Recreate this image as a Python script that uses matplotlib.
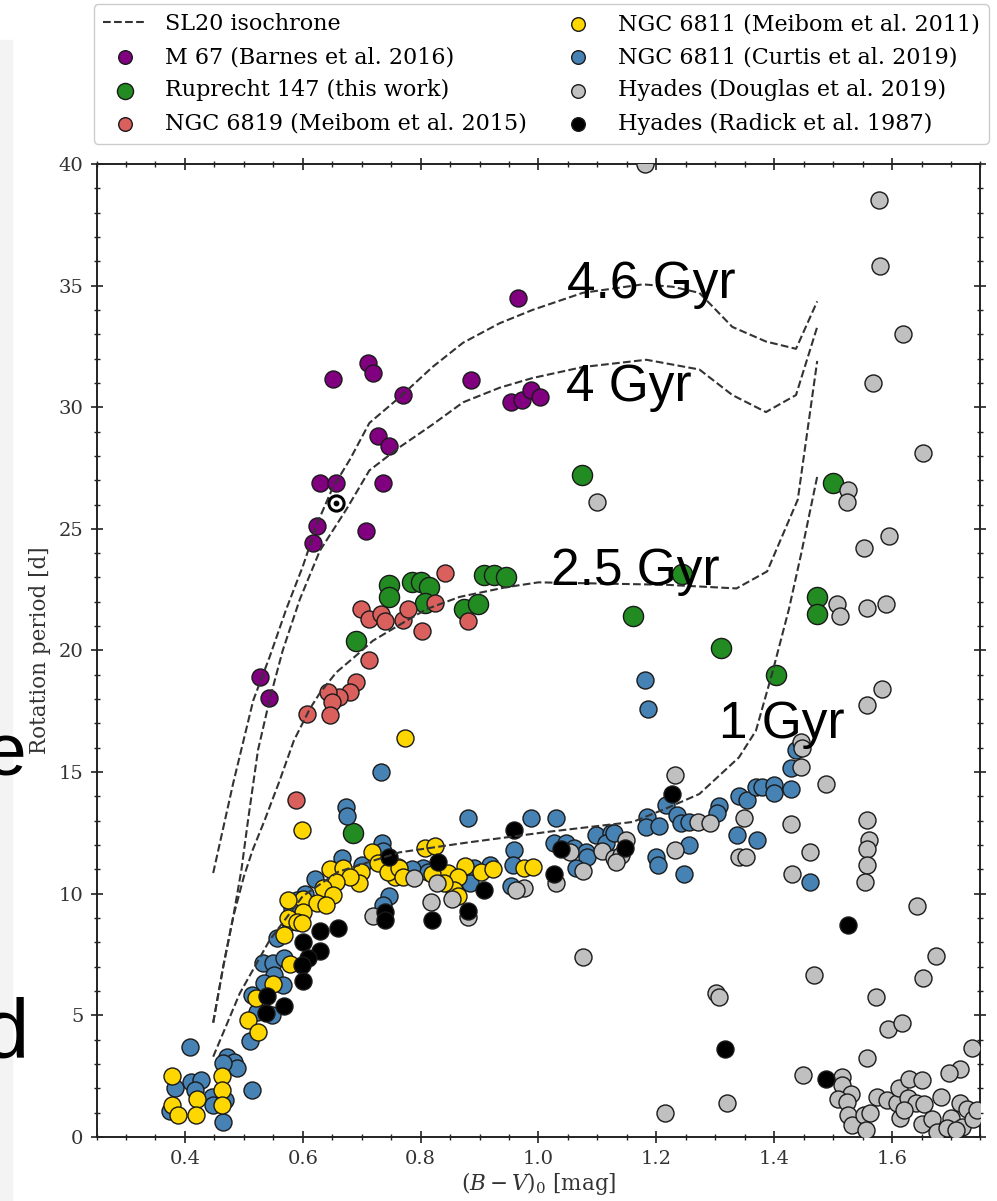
import matplotlib
matplotlib.use("Agg")
import matplotlib.pyplot as plt
from matplotlib.patches import Rectangle

plt.rcParams['font.family'] = ['DejaVu Serif']
plt.rcParams['mathtext.fontset'] = 'dejavuserif'

# --- SL20 isochrones (B-V, P) ---
iso_46_bv = [0.448, 0.482, 0.516, 0.544, 0.572, 0.600, 0.625, 0.651, 0.680, 0.713, 0.764, 0.820,
             0.872, 0.934, 0.990, 1.075, 1.177, 1.228, 1.273, 1.329, 1.386, 1.437, 1.473]
iso_46_p = [10.85, 14.55, 17.95, 19.75, 21.7, 23.45, 25.25, 26.7, 27.85, 29.35, 30.4, 31.65,
            32.65, 33.45, 34.0, 34.7, 35.05, 34.95, 34.7, 33.3, 32.7, 32.4, 34.35]
iso_4_bv = [0.448, 0.465, 0.482, 0.496, 0.507, 0.524, 0.544, 0.566, 0.595, 0.629, 0.674, 0.713,
            0.764, 0.821, 0.872, 0.934, 0.990, 1.075, 1.183, 1.273, 1.329, 1.386, 1.437, 1.473]
iso_4_p = [4.7, 7.0, 9.05, 11.0, 13.0, 15.9, 18.0, 20.0, 22.1, 24.1, 25.8, 27.4,
           28.35, 29.3, 30.2, 30.8, 31.2, 31.65, 31.95, 31.55, 30.5, 29.8, 30.5, 33.3]
iso_25_bv = [0.448, 0.465, 0.482, 0.500, 0.515, 0.535, 0.560, 0.585, 0.612, 0.629, 0.657, 0.691,
             0.719, 0.764, 0.810, 0.866, 0.945, 1.000, 1.217, 1.336, 1.388, 1.410, 1.440, 1.473]
iso_25_p = [4.7, 7.0, 9.05, 10.7, 11.8, 13.0, 14.6, 16.3, 17.6, 18.25, 19.1, 19.8,
            20.4, 21.05, 21.7, 22.2, 22.6, 22.8, 22.7, 22.55, 23.25, 24.5, 26.2, 31.9]
iso_1_bv = [0.448, 0.493, 0.544, 0.600, 0.660, 0.764, 0.878, 1.018, 1.160, 1.216, 1.273, 1.340,
            1.369, 1.397, 1.425, 1.446, 1.473]
iso_1_p = [3.3, 5.9, 8.1, 9.9, 10.9, 11.7, 12.1, 12.55, 12.95, 13.5, 14.1, 15.6,
           16.7, 19.1, 21.7, 24.0, 27.15]

iso_names = ["4.6 Gyr", "4 Gyr", "2.5 Gyr", "1 Gyr"]
iso_label_bv = [1.049, 1.047, 1.022, 1.307]
iso_label_p = [34.5, 30.26, 22.7, 16.4]

# --- M 67 (Barnes et al. 2016) ---
m67_bv = [0.966, 0.527, 0.542, 0.617, 0.625, 0.63, 0.657, 0.651, 0.71, 0.72,
          0.727, 0.746, 0.77, 0.737, 0.708, 0.886, 0.954, 0.972, 0.988, 1.003]
m67_p = [34.5, 18.9, 18.05, 24.4, 25.1, 26.9, 26.9, 31.17, 31.8, 31.4,
         28.8, 28.4, 30.5, 26.9, 24.9, 31.1, 30.2, 30.3, 30.7, 30.4]

# --- Ruprecht 147 (this work) ---
rup_bv = [0.747, 0.746, 0.786, 0.80, 0.814, 0.808, 0.907, 0.925, 0.945, 0.873, 0.898,
          0.691, 1.244, 1.16, 1.31, 1.403, 1.473, 1.473, 1.074, 1.50, 0.685]
rup_p = [22.7, 22.2, 22.8, 22.8, 22.6, 21.95, 23.1, 23.1, 23.0, 21.7, 21.9,
         20.4, 23.15, 21.4, 20.1, 19.0, 22.2, 21.5, 27.2, 26.9, 12.5]

# --- NGC 6819 (Meibom et al. 2015) ---
n6819_bv = [0.842, 0.698, 0.713, 0.732, 0.74, 0.77, 0.778, 0.825, 0.803, 0.881,
            0.713, 0.691, 0.681, 0.662, 0.642, 0.649, 0.607, 0.647, 0.588]
n6819_p = [23.2, 21.7, 21.3, 21.5, 21.2, 21.25, 21.7, 21.95, 20.8, 21.2,
           19.6, 18.7, 18.3, 18.1, 18.3, 17.9, 17.4, 17.35, 13.85]

# --- NGC 6811 (Meibom et al. 2011) ---
m11_bv = [0.774, 0.598, 0.717, 0.727, 0.761, 0.757, 0.745, 0.646, 0.669, 0.699, 0.696, 0.68,
          0.657, 0.634, 0.651, 0.60, 0.625, 0.64, 0.575, 0.60, 0.575, 0.59, 0.598, 0.568,
          0.578, 0.55, 0.52, 0.507, 0.524, 0.378, 0.378, 0.388, 0.42, 0.419, 0.463, 0.463,
          0.463, 0.807, 0.825, 0.875, 0.847, 0.864, 0.903, 0.922, 0.976, 0.99, 0.764, 0.77,
          0.82, 0.857, 0.863, 0.84]
m11_p = [16.4, 12.6, 11.7, 11.25, 11.1, 10.7, 10.9, 11.0, 11.05, 10.9, 10.45, 10.7,
         10.5, 10.25, 9.95, 9.8, 9.6, 9.55, 9.75, 9.25, 9.0, 8.85, 8.8, 8.3,
         7.1, 6.3, 5.7, 4.8, 4.3, 2.5, 1.3, 0.9, 1.55, 0.9, 2.5, 1.95,
         1.3, 11.9, 11.95, 11.15, 10.85, 10.7, 10.9, 11.0, 11.05, 11.1, 11.05, 10.7,
         10.8, 10.15, 9.9, 10.45]

# --- NGC 6811 (Curtis et al. 2019) ---
c19_bv = [0.734, 0.736, 0.666, 0.747, 0.736, 0.604, 0.591, 0.581, 0.578, 0.556, 0.532, 0.549,
          0.569, 0.552, 0.535, 0.566, 0.514, 0.522, 0.547, 0.51, 0.408, 0.514, 0.471, 0.484,
          0.488, 0.465, 0.41, 0.428, 0.383, 0.417, 0.446, 0.448, 0.468, 0.465, 0.375,
          0.732, 0.674, 0.675, 0.881, 0.804, 0.89, 0.917, 0.62, 0.70, 0.785, 0.812,
          0.988, 1.03, 0.959, 0.956, 0.953, 0.883, 1.027, 1.047, 1.06, 1.081, 1.083, 1.098,
          1.123, 1.115, 1.064, 1.185, 1.183, 1.205, 1.217, 1.2, 1.202, 1.235, 1.242, 1.256,
          1.256, 1.247, 1.18, 1.186, 1.306, 1.303, 1.34, 1.354, 1.369, 1.38, 1.40, 1.40,
          1.428, 1.428, 1.437, 1.337, 1.371, 1.46, 1.129]
c19_p = [12.1, 11.75, 11.45, 9.9, 9.55, 10.0, 9.75, 9.4, 8.85, 8.2, 7.15, 7.15,
         7.35, 6.65, 6.35, 6.25, 5.85, 5.15, 5.0, 3.95, 3.7, 1.95, 3.3, 3.1,
         2.85, 3.05, 2.25, 2.35, 2.0, 1.95, 1.65, 1.3, 1.5, 0.6, 1.05,
         15.0, 13.55, 13.2, 13.1, 11.05, 11.05, 11.2, 10.6, 11.2, 11.0, 10.9,
         13.1, 13.1, 11.8, 11.2, 10.3, 10.45, 12.1, 12.1, 11.9, 11.7, 11.5, 12.4,
         12.5, 12.1, 11.05, 13.15, 12.75, 12.8, 13.65, 11.5, 11.2, 13.25, 12.9, 12.95,
         12.0, 10.8, 18.8, 17.6, 13.6, 13.3, 14.0, 13.85, 14.4, 14.4, 14.45, 14.15,
         14.3, 15.15, 15.9, 12.4, 12.2, 10.5, 12.5]

# --- Hyades (Douglas et al. 2019) ---
d19_bv = [1.18, 1.578, 1.58, 1.619, 1.568, 1.652, 1.526, 1.524, 1.10, 1.595, 1.553, 1.507,
          1.512, 1.558, 1.589, 1.583, 1.558, 1.445, 1.448, 1.445, 1.488, 1.232, 1.27, 1.291,
          1.349, 1.428, 1.558, 1.561, 1.558, 1.558, 1.554, 1.461, 1.43, 1.34, 1.352, 1.232,
          1.107, 1.129, 1.149, 1.075, 0.975, 0.962, 1.029, 1.14, 1.132, 1.054,
          1.642, 1.674, 1.468, 1.653, 1.075, 1.302, 1.306, 1.32, 1.215, 1.572, 1.593, 1.617,
          1.558, 1.736, 1.715, 1.696, 1.449, 1.515, 1.515, 1.53, 1.509, 1.524, 1.526, 1.532,
          1.553, 1.562, 1.555, 1.574, 1.591, 1.608, 1.612, 1.629, 1.651, 1.627, 1.64, 1.654,
          1.614, 1.62, 1.683, 1.651, 1.668, 1.676, 1.70, 1.693, 1.719, 1.715, 1.727, 1.737,
          1.744, 1.708, 0.788, 0.719, 0.818, 0.828, 0.854, 0.88]
d19_p = [40.0, 38.5, 35.8, 33.0, 31.0, 28.1, 26.6, 26.1, 26.1, 24.7, 24.2, 21.9,
         21.4, 21.75, 21.9, 18.4, 17.75, 16.25, 16.0, 15.2, 14.5, 14.9, 12.95, 12.9,
         13.1, 12.85, 13.05, 12.2, 11.85, 11.2, 10.5, 11.7, 10.8, 11.5, 11.5, 11.8,
         11.75, 11.45, 12.2, 10.95, 10.25, 10.15, 10.45, 11.6, 11.3, 11.7,
         9.5, 7.45, 6.65, 6.55, 7.4, 5.9, 5.75, 1.4, 1.0, 5.75, 4.45, 4.7,
         3.25, 3.65, 2.8, 2.65, 2.55, 2.45, 2.15, 1.75, 1.55, 1.45, 0.9, 0.5,
         0.9, 1.0, 0.3, 1.65, 1.5, 1.4, 2.0, 2.4, 2.35, 1.6, 1.4, 1.35,
         0.8, 1.1, 1.65, 0.55, 0.75, 0.2, 0.8, 0.35, 0.4, 1.4, 1.15, 0.75,
         1.1, 0.3, 10.65, 9.1, 9.65, 10.45, 9.8, 9.05]

# --- Hyades (Radick et al. 1987) ---
r87_bv = [0.747, 0.829, 0.739, 0.74, 0.819, 0.88, 0.908, 0.63, 0.659, 0.6, 0.63, 0.609,
          0.598, 0.6, 0.539, 0.569, 0.538, 0.959, 1.039, 1.147, 1.027, 1.227, 1.526, 1.317, 1.488]
r87_p = [11.5, 11.3, 9.25, 8.9, 8.9, 9.3, 10.15, 8.45, 8.6, 8.0, 7.65, 7.35,
         7.05, 6.4, 5.8, 5.4, 5.1, 12.6, 11.85, 11.9, 10.8, 14.1, 8.7, 3.6, 2.4]

sun_bv, sun_p = 0.657, 26.07

fig = plt.figure(figsize=(9.97, 12.01), dpi=100)
fig.patches.append(Rectangle((0, 0), 12 / 997, 1 - 40 / 1201, transform=fig.transFigure,
                             color='#f3f3f3', zorder=0))
ax = fig.add_axes([0.0968, 0.0533, 0.8866, 0.8102])

ec = '#1a1a1a'
ms = 150
iso_kw = dict(ls='--', color='#333333', lw=1.5, zorder=5)
l1, = ax.plot(iso_46_bv, iso_46_p, label='SL20 isochrone', **iso_kw)
ax.plot(iso_4_bv, iso_4_p, **iso_kw)
ax.plot(iso_25_bv, iso_25_p, **iso_kw)
ax.plot(iso_1_bv, iso_1_p, **iso_kw)

s1 = ax.scatter(m67_bv, m67_p, s=ms, c='purple', edgecolors=ec, lw=1, zorder=3,
                label='M 67 (Barnes et al. 2016)')
s2 = ax.scatter(rup_bv, rup_p, s=210, c='forestgreen', edgecolors=ec, lw=1, zorder=3,
                label='Ruprecht 147 (this work)')
s3 = ax.scatter(n6819_bv, n6819_p, s=ms, c='#d9605c', edgecolors=ec, lw=1, zorder=3.1,
                label='NGC 6819 (Meibom et al. 2015)')
s4 = ax.scatter(m11_bv, m11_p, s=ms, c='gold', edgecolors=ec, lw=1, zorder=3.3,
                label='NGC 6811 (Meibom et al. 2011)')
s5 = ax.scatter(c19_bv, c19_p, s=ms, c='#4682b4', edgecolors=ec, lw=1, zorder=3.2,
                label='NGC 6811 (Curtis et al. 2019)')
s6 = ax.scatter(d19_bv, d19_p, s=ms, c='silver', edgecolors=ec, lw=1, zorder=3.4,
                label='Hyades (Douglas et al. 2019)')
s7 = ax.scatter(r87_bv, r87_p, s=ms, c='black', edgecolors=ec, lw=1, zorder=3.5,
                label='Hyades (Radick et al. 1987)')

# the Sun
ax.scatter([sun_bv], [sun_p], s=120, facecolors='white', edgecolors='black', lw=2.2, zorder=6)
ax.scatter([sun_bv], [sun_p], s=10, c='black', zorder=7)

for name, x, y in zip(iso_names, iso_label_bv, iso_label_p):
    ax.text(x, y, name, fontsize=37, family='Liberation Sans', ha='left', va='baseline',
            color='black', zorder=8)

ax.set_xlim(0.25, 1.75)
ax.set_ylim(0, 40)
ax.set_xticks([0.4, 0.6, 0.8, 1.0, 1.2, 1.4, 1.6])
ax.set_xticks([0.25 + 0.05 * i for i in range(31)], minor=True)
ax.set_yticks([0, 5, 10, 15, 20, 25, 30, 35, 40])
ax.set_yticks(list(range(41)), minor=True)
ax.tick_params(which='both', direction='inout', top=True, right=True, colors='#222222',
               labelcolor='#333333', labelsize=14)
ax.tick_params(which='major', length=9, width=1.2, pad=5)
ax.tick_params(which='minor', length=5, width=1.0)
for sp in ax.spines.values():
    sp.set_linewidth(1.4)
    sp.set_color('#222222')

ax.set_xlabel(r'$(B-V)_0$ [mag]', fontsize=15.5, color='#333333', labelpad=1)
ax.set_ylabel('Rotation period [d]', fontsize=15.5, color='#333333', labelpad=5)

handles = [l1, s1, s2, s3, s4, s5, s6, s7]
leg = ax.legend(handles=handles, ncol=2, loc='lower center', bbox_to_anchor=(0.503, 1.021),
                borderaxespad=0, fontsize=16, columnspacing=1.3, handletextpad=0.8,
                labelspacing=0.5, markerscale=0.8, frameon=True, fancybox=True,
                edgecolor='#cccccc', framealpha=1)

# fragments of slide text cut off at the left edge
fig.text(27 / 997, 1 - 775 / 1201, 'e', fontsize=54, family='Liberation Sans',
         ha='right', va='baseline')
fig.text(29 / 997, 1 - 1058 / 1201, 'd', fontsize=60, family='Liberation Sans',
         ha='right', va='baseline')

fig.savefig('out.png', dpi=100)
